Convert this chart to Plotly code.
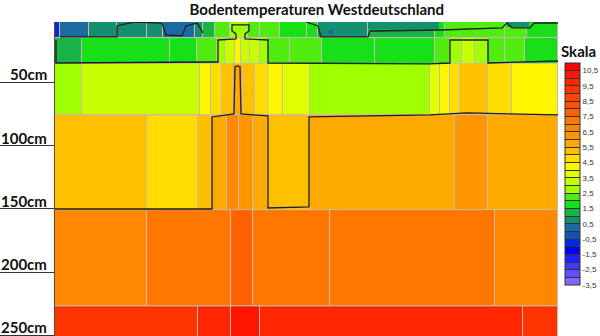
import plotly.graph_objects as go

# ---------------- data ----------------
TITLE = "Bodentemperaturen Westdeutschland"
SCALE_TITLE = "Skala"

# depth layers (cm)
LAYER_DEPTHS = [0, 15, 35.5, 76, 151, 227, 255]

# horizontal cell edges (km along the transect) and temperatures (deg C) per layer
A_EDGES = [0, 5, 34, 62, 92, 108, 140, 148, 160, 175, 193, 205, 225, 252, 263, 313, 380, 390, 450, 472, 503]
A_TEMPS = [-0.75, 0.25, 0.75, 0.75, 0.75, 0.25, 0.75, 1.25, 2.25, 2.75, 2.25, 2.25, 1.75, 1.75, 0.75, 1.25, 1.75, 2.25, 2.25, 1.75]

B_EDGES = [0, 27, 115, 142, 162, 170, 180, 186, 195, 205, 213, 235, 267, 320, 380, 395, 407, 420, 433, 450, 470, 503]
B_TEMPS = [1.25, 1.75, 1.75, 2.25, 2.75, 3.25, 4.25, 3.25, 3.25, 2.75, 2.25, 2.25, 1.75, 1.75, 2.25, 2.75, 3.25, 2.75, 2.25, 2.25, 1.75]

C_EDGES = [0, 27, 145, 156, 167, 178, 188, 200, 213, 228, 255, 375, 385, 395, 405, 433, 457, 503]
C_TEMPS = [2.75, 3.25, 4.25, 4.75, 5.25, 5.75, 5.25, 4.75, 4.25, 3.75, 2.75, 3.75, 4.25, 4.75, 5.25, 4.75, 4.25]

D_EDGES = [0, 92, 143, 157, 172, 184, 198, 213, 255, 400, 433, 503]
D_TEMPS = [5.25, 4.75, 5.25, 5.75, 6.75, 6.25, 5.75, 5.25, 5.75, 6.25, 5.75]

E_EDGES = [0, 92, 176, 198, 275, 440, 503]
E_TEMPS = [6.75, 7.25, 7.75, 7.25, 7.25, 6.75]

F_EDGES = [0, 143, 176, 205, 468, 503]
F_TEMPS = [9.25, 9.75, 10.25, 9.75, 9.25]

# small pockets inside the top layer: (x0, x1, depth0, depth1, temp)
POCKETS = [
    (313, 385, 0, 9.0, 0.75),
    (452, 475, 0, 7.1, 0.75),
    (273, 279, 8.7, 12.6, 0.25),
]

# isotherm lines (km, depth cm)
ISO_WARM_X = [0, 157, 157, 179, 180, 182.5, 185, 186, 213, 213, 254, 254, 375, 412, 503]
ISO_WARM_D = [150.1, 150.1, 77.4, 75.0, 37.9, 37.1, 37.9, 75.0, 76.6, 149.3, 148.5, 77.4, 75.8, 74.2, 75.8]

ISO_MID_X = [1, 1, 160, 163, 163, 181, 181, 177, 177, 194, 194, 190, 190, 213, 213, 375, 395, 395, 433, 433, 503]
ISO_MID_D = [16.6, 34.8, 34.0, 34.0, 16.6, 15.8, 11.8, 9.5, 4.7, 4.7, 9.5, 11.8, 15.8, 16.6, 34.8, 35.5, 34.8, 16.6, 16.6, 34.8, 33.2]

ISO_COLD_L_X = [5, 62, 62, 79, 107, 111, 127, 131, 142, 148]
ISO_COLD_L_D = [14.2, 14.2, 5.5, 2.4, 3.2, 12.6, 13.4, 5.5, 3.2, 11.1]

ISO_COLD_R_X = [251, 263, 266, 313, 315, 385, 447, 452, 457, 475, 479, 503]
ISO_COLD_R_D = [2.4, 5.5, 14.2, 14.2, 9.5, 8.7, 7.1, 3.2, 7.1, 7.1, 3.2, 3.2]

DEPTH_TICKS = [50, 100, 150, 200, 250]
DEPTH_LABELS = ["50cm", "100cm", "150cm", "200cm", "250cm"]

# discrete scale: 0.5 degree bins from -3.5 to 11
SCALE_MIN, SCALE_MAX, SCALE_STEP = -3.5, 11.0, 0.5
SCALE_COLORS = [
    "#8068FF", "#6050FF", "#4038FF", "#2020FF", "#0000FF", "#0828E0", "#1050B8",
    "#1A6CA0", "#15906E", "#18B448", "#18E018", "#50EC10", "#A0FF00", "#C8FF00",
    "#E2FF00", "#FFF500", "#FFDD00", "#FFC000", "#FFAA00", "#FF9500", "#FF8800",
    "#FF7700", "#FF6000", "#FF5000", "#FF4400", "#FF3300", "#FF2600", "#FF1500",
    "#FF0000",
]

# ---------------- figure ----------------
n = len(SCALE_COLORS)
colorscale = []
for i, c in enumerate(SCALE_COLORS):
    colorscale.append([i / n, c])
    colorscale.append([(i + 1) / n, c])

tickvals = [SCALE_MIN + SCALE_STEP * i for i in range(n + 1)]
ticktext = []
for v in tickvals:
    if abs((v % 1) - 0.5) < 1e-9 and v < SCALE_MAX:
        ticktext.append(("%.1f" % v).replace(".", ","))
    else:
        ticktext.append("")

fig = go.Figure()

layers = [(A_EDGES, A_TEMPS), (B_EDGES, B_TEMPS), (C_EDGES, C_TEMPS),
          (D_EDGES, D_TEMPS), (E_EDGES, E_TEMPS), (F_EDGES, F_TEMPS)]
for i, (edges, temps) in enumerate(layers):
    fig.add_trace(go.Heatmap(
        x=edges, y=[LAYER_DEPTHS[i], LAYER_DEPTHS[i + 1]], z=[temps],
        coloraxis="coloraxis", xgap=1, ygap=1, hoverinfo="skip"))

for x0, x1, d0, d1, t in POCKETS:
    fig.add_trace(go.Heatmap(
        x=[x0, x1], y=[d0, d1], z=[[t]],
        coloraxis="coloraxis", xgap=1, ygap=1, hoverinfo="skip"))

for xs, ds in [(ISO_WARM_X, ISO_WARM_D), (ISO_MID_X, ISO_MID_D),
               (ISO_COLD_L_X, ISO_COLD_L_D), (ISO_COLD_R_X, ISO_COLD_R_D)]:
    fig.add_trace(go.Scatter(
        x=xs, y=ds, mode="lines", line=dict(color="#1e1e1e", width=1.3),
        showlegend=False, hoverinfo="skip"))

for d, lab in zip(DEPTH_TICKS, DEPTH_LABELS):
    fig.add_annotation(
        x=-0.012, xref="paper", y=d, yref="y", text="<b>%s</b>" % lab,
        showarrow=False, xanchor="right", yanchor="bottom", yshift=-3,
        font=dict(family="Lato", size=15, color="#111"))

fig.add_annotation(
    x=1.04, xref="paper", y=0.908, yref="paper", text="<b>%s</b>" % SCALE_TITLE,
    showarrow=False, xanchor="center", yanchor="middle",
    font=dict(family="Lato", size=15, color="#111"))

fig.update_layout(
    width=600, height=336,
    margin=dict(l=55, r=42, t=22, b=0, autoexpand=False),
    paper_bgcolor="white", plot_bgcolor="#C8BCB0",
    title=dict(text="<b>%s</b>" % TITLE, x=0.528, xref="container", xanchor="center",
               y=1 - 10 / 336, yref="container", yanchor="middle",
               font=dict(family="Lato", size=15, color="#111")),
    coloraxis=dict(
        colorscale=colorscale, cmin=SCALE_MIN, cmax=SCALE_MAX,
        colorbar=dict(
            x=1.0139, xanchor="left", xpad=0, y=0.516, yanchor="middle", ypad=0,
            len=0.707, lenmode="fraction", thickness=15,
            outlinewidth=1, outlinecolor="#333",
            tickmode="array", tickvals=tickvals, ticktext=ticktext,
            ticks="inside", ticklen=15, tickwidth=1, tickcolor="#333",
            tickfont=dict(family="Liberation Sans", size=8, color="#333"),
        )),
    xaxis=dict(range=[0, 503], visible=False, fixedrange=True),
    yaxis=dict(range=[250.4, 2.4], tickmode="array", tickvals=DEPTH_TICKS,
               ticks="outside", ticklen=55, tickwidth=1, tickcolor="#333",
               showticklabels=False, showgrid=False, zeroline=False,
               showline=True, linecolor="#5a4a3a", linewidth=1),
    showlegend=False,
)

fig.write_html("out.html")
